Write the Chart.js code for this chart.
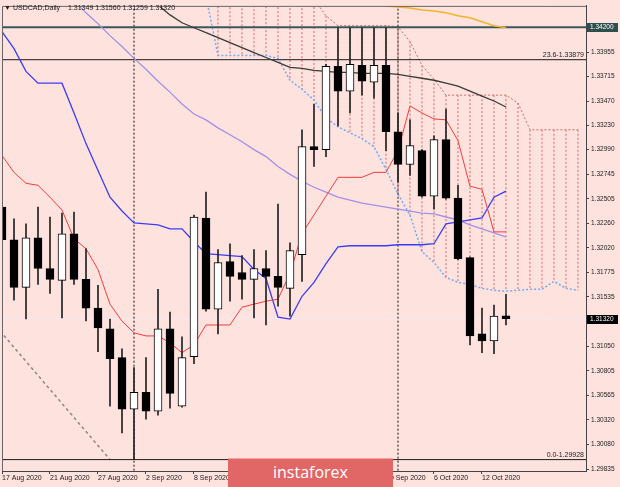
<!DOCTYPE html>
<html>
<head>
<meta charset="utf-8">
<script src="https://cdn.jsdelivr.net/npm/chart.js@4.4.1/dist/chart.umd.min.js"></script>
<style>
  html, body { margin: 0; padding: 0; background: #fde2de; }
  #wrap { position: relative; width: 620px; height: 487px; }
  #logo {
    position: absolute; left: 228px; top: 458px; width: 165px; height: 29px;
    background: #e16666; color: #fff; border-top: 1px solid #f2a4a4; box-sizing: border-box;
    font: 16px "Open Sans", sans-serif; text-align: center; line-height: 27px;
  }
</style>
</head>
<body>
<div id="wrap">
  <canvas id="chart" width="620" height="487"></canvas>
  <div id="logo">instaforex</div>
</div>
<script>
// USDCAD daily, 17 Aug - 14 Oct 2020
const dates = ["17 Aug 2020","18 Aug 2020","19 Aug 2020","20 Aug 2020","21 Aug 2020","24 Aug 2020","25 Aug 2020","26 Aug 2020","27 Aug 2020","28 Aug 2020","31 Aug 2020",
  "1 Sep 2020","2 Sep 2020","3 Sep 2020","4 Sep 2020","7 Sep 2020","8 Sep 2020","9 Sep 2020","10 Sep 2020","11 Sep 2020","14 Sep 2020","15 Sep 2020","16 Sep 2020","17 Sep 2020","18 Sep 2020","21 Sep 2020","22 Sep 2020","23 Sep 2020","24 Sep 2020","25 Sep 2020","28 Sep 2020","29 Sep 2020","30 Sep 2020",
  "1 Oct 2020","2 Oct 2020","5 Oct 2020","6 Oct 2020","7 Oct 2020","8 Oct 2020","9 Oct 2020","12 Oct 2020","13 Oct 2020","14 Oct 2020"];
const xTickBars = [0, 4, 8, 12, 16, 20, 24, 28, 32, 36, 40];

const open  = [1.32423,1.32100,1.31630,1.32120,1.31816,1.31699,1.32159,1.31708,1.31425,1.31219,1.30935,1.30426,1.30592,1.30406,1.31219,1.30455,1.30945,1.32315,1.31415,1.31885,1.31777,1.31708,1.31816,1.31738,1.31620,1.31953,1.33020,1.32991,1.33813,1.33568,1.33823,1.33657,1.33823,1.33167,1.32844,1.32981,1.32531,1.33089,1.32511,1.31924,1.31170,1.31101,1.31349];
const high  = [1.32599,1.32306,1.32257,1.32423,1.32325,1.32364,1.32374,1.32012,1.31650,1.31317,1.31023,1.30837,1.30935,1.31611,1.31385,1.31141,1.32345,1.32570,1.32002,1.32061,1.31943,1.32002,1.31992,1.32452,1.32071,1.33187,1.33441,1.33833,1.34195,1.34195,1.34195,1.34195,1.34195,1.33353,1.33285,1.32991,1.33128,1.33392,1.32638,1.31930,1.31425,1.31454,1.31560];
const low   = [1.31904,1.31503,1.31317,1.31659,1.31571,1.31327,1.31659,1.31297,1.30994,1.30455,1.30191,1.29928,1.30328,1.30367,1.30436,1.30445,1.30876,1.31395,1.31170,1.31493,1.31513,1.31327,1.31258,1.31444,1.31346,1.31689,1.32824,1.32922,1.33226,1.33353,1.33529,1.33500,1.32981,1.32668,1.32736,1.32521,1.32403,1.32501,1.31904,1.31062,1.30984,1.30974,1.31259];
const close = [1.32100,1.31630,1.32120,1.31816,1.31708,1.32159,1.31708,1.31425,1.31229,1.30925,1.30426,1.30592,1.30406,1.31219,1.30583,1.30935,1.32325,1.31415,1.31875,1.31738,1.31708,1.31816,1.31738,1.31630,1.31992,1.33020,1.32991,1.33813,1.33568,1.33833,1.33666,1.33823,1.33167,1.32844,1.33030,1.32531,1.33089,1.32511,1.31914,1.31150,1.31101,1.31346,1.31320];

// ichimoku lines
const tenkan = [1.32932,1.32766,1.32658,1.32638,1.32521,1.32394,1.32110,1.32012,1.31806,1.31464,1.31297,1.31180,1.31150,1.31150,1.31082,1.30984,1.31062,1.31258,1.31258,1.31258,1.31434,1.31464,1.31493,1.31513,1.31767,1.32159,1.32345,1.32531,1.32717,1.32717,1.32717,1.32766,1.32766,1.32981,1.33422,1.33353,1.33294,1.33285,1.33079,1.32629,1.32599,1.32178,1.32178];
const kijun  = [1.34156,1.33989,1.33764,1.33647,1.33647,1.33647,1.33353,1.33050,1.32785,1.32521,1.32384,1.32266,1.32257,1.32247,1.32208,1.32208,1.32080,1.31963,1.31953,1.31943,1.31934,1.31806,1.31718,1.31336,1.31317,1.31542,1.31679,1.31865,1.32031,1.32041,1.32041,1.32041,1.32041,1.32051,1.32051,1.32051,1.32061,1.32257,1.32276,1.32296,1.32315,1.32521,1.32580];
// cloud, bars 0..48 (26 bars ahead of price)
const spanA = [null,null,null,null,null,null,null,null,null,null,null,null,null,null,null,null,null,
  1.35017,1.34920,1.34871,1.34822,1.34773,1.34724,1.34675,1.34626,1.34547,1.34479,1.34313,1.34215,1.34215,1.34215,1.34215,1.34215,1.34205,1.34058,1.33823,1.33686,1.33529,1.33529,1.33529,1.33529,1.33529,1.33529,1.33451,1.33187,1.33187,1.33187,1.33187,1.33187];
const spanB = [null,null,null,null,null,null,null,null,null,null,null,null,null,null,null,null,null,
  1.34508,1.33921,1.33921,1.33921,1.33921,1.33921,1.33892,1.33676,1.33588,1.33480,1.33304,1.33216,1.33157,1.33099,1.33020,1.32795,1.32550,1.32345,1.31983,1.31875,1.31728,1.31679,1.31659,1.31620,1.31601,1.31591,1.31601,1.31611,1.31611,1.31689,1.31620,1.31601];

// moving averages
const maPurple = [1.35135,1.35017,1.34910,1.34792,1.34685,1.34567,1.34459,1.34342,1.34234,1.34117,1.34009,1.33892,1.33784,1.33666,1.33559,1.33441,1.33343,1.33285,1.33206,1.33138,1.33069,1.32991,1.32922,1.32824,1.32746,1.32678,1.32619,1.32570,1.32521,1.32492,1.32462,1.32443,1.32423,1.32403,1.32384,1.32364,1.32355,1.32325,1.32296,1.32247,1.32208,1.32169,1.32129];
const maBlack = [null,null,null,null,null,null,null,null,null,null,null,1.34606,1.34508,1.34420,1.34322,1.34244,1.34195,1.34146,1.34097,1.34048,1.33999,1.33950,1.33901,1.33852,1.33803,1.33794,1.33774,1.33764,1.33754,1.33754,1.33745,1.33745,1.33745,1.33735,1.33715,1.33696,1.33676,1.33647,1.33617,1.33568,1.33520,1.33471,1.33412];
const maOrange = [null,null,null,null,null,null,null,null,null,null,null,null,null,null,null,null,null,null,null,null,null,null,null,null,null,null,null,null,null,null,1.34450,1.34430,1.34410,1.34401,1.34391,1.34371,1.34361,1.34342,1.34313,1.34293,1.34254,1.34215,1.34195];

// drawn objects
const trendX = [-0.17, 9];
const trendY = [1.31199, 1.29928];
const monthSeparators = [11, 33];
const resistance = 1.34200;
const fibNames = ["23.6", "0.0"];
const fibValues = [1.33879, 1.29928];
const lastPrice = 1.31320;
const yTicks = [1.29835,1.30080,1.30320,1.30565,1.30805,1.31050,1.31535,1.31775,1.32020,1.32260,1.32505,1.32745,1.32990,1.33230,1.33470,1.33715,1.33955];

const X_MIN = 0, X_MAX = 48.667, Y_MIN = 1.298154, Y_MAX = 1.344107;

const series = (arr) => arr.map((v, i) => ({ x: i, y: v }));
const hline = (v) => [{ x: X_MIN - 1, y: v }, { x: X_MAX + 1, y: v }];

const hatch = [];
spanA.forEach((a, i) => {
  if (a == null) return;
  hatch.push({ x: i, y: a }, { x: i, y: spanB[i] }, { x: i, y: null });
});
const seps = [];
monthSeparators.forEach((i) => seps.push({ x: i, y: Y_MAX + 0.01 }, { x: i, y: Y_MIN - 0.01 }, { x: i, y: null }));

const lineDs = (data, color, width, order, dash) => ({
  type: "line", data, borderColor: color, borderWidth: width, borderDash: dash || [],
  pointRadius: 0, tension: 0, spanGaps: false, order, fill: false,
});

const overlay = {
  id: "overlay",
  afterDraw(chart) {
    const { ctx, chartArea: a, scales: { y } } = chart;
    ctx.save();
    ctx.strokeStyle = "#666";
    ctx.lineWidth = 1;
    ctx.beginPath();
    ctx.moveTo(a.left + 0.5, a.bottom);
    ctx.lineTo(a.left + 0.5, a.top + 0.5);
    ctx.lineTo(a.right, a.top + 0.5);
    ctx.stroke();

    ctx.font = '7px "Liberation Sans"';
    ctx.textBaseline = "middle";
    ctx.fillStyle = "#222";
    ctx.fillText("\u25BC", 4, 8);
    ctx.fillText("USDCAD,Daily", 13, 8);
    ctx.fillText([open[42], high[42], low[42], close[42]].map((v) => v.toFixed(5)).join(" "), 68, 8);

    ctx.textAlign = "right";
    ctx.textBaseline = "bottom";
    fibValues.forEach((v, k) => {
      ctx.fillText(fibNames[k] + "-" + v.toFixed(5), a.right - 2, y.getPixelForValue(v) - 1);
    });

    ctx.textAlign = "left";
    ctx.textBaseline = "middle";
    ctx.font = '6.5px "Liberation Sans"';
    [[resistance, "#2f4f4f"], [lastPrice, "#000"]].forEach(([v, bg]) => {
      const py = Math.round(y.getPixelForValue(v));
      ctx.fillStyle = bg;
      ctx.fillRect(a.right + 1, py - 4, 31, 9);
      ctx.fillStyle = "#fff";
      ctx.fillText(v.toFixed(5), a.right + 4, py + 0.5);
    });
    ctx.restore();
  },
};

new Chart("chart", {
  type: "bar",
  data: {
    datasets: [
      {
        type: "bar", order: 0,
        data: open.map((o, i) => ({ x: i, y: [o, close[i]] })),
        backgroundColor: open.map((o, i) => (close[i] >= o ? "#ffffff" : "#000000")),
        borderColor: "#000", borderWidth: 1, borderSkipped: false, barThickness: 8, grouped: false,
      },
      {
        type: "bar", order: 1,
        data: low.map((l, i) => ({ x: i, y: [l, high[i]] })),
        backgroundColor: "#222", borderWidth: 0, barThickness: 1, grouped: false,
      },
      lineDs(series(tenkan), "#f23c3c", 1, 2),
      lineDs(series(kijun), "#3c3cf5", 1.3, 2),
      lineDs(series(maPurple), "#a390e6", 1.3, 3),
      lineDs(series(maBlack), "#3a3a3a", 1.3, 3),
      lineDs(series(maOrange), "#f2b42c", 1.5, 3),
      lineDs(hline(resistance), "#3a5858", 2, 4),
      lineDs(hline(fibValues[0]), "#1a1a1a", 1, 4),
      lineDs(hline(fibValues[1]), "#1a1a1a", 1, 4),
      lineDs(hline(lastPrice), "#f4e9f2", 1, 9),
      lineDs(trendX.map((x, k) => ({ x, y: trendY[k] })), "#8f8585", 1.5, 5, [3, 3]),
      lineDs(seps, "#111", 1, 5, [2, 2]),
      lineDs(series(spanB), "#79aaf0", 1.5, 6, [2, 2]),
      lineDs(series(spanA), "#cc6a6a", 1, 7, [2, 2]),
      lineDs(hatch, "#cc6a6a", 1, 8, [2, 2]),
    ],
  },
  options: {
    responsive: false,
    animation: false,
    devicePixelRatio: 1,
    layout: { padding: { left: 2, top: 2, right: 0, bottom: 0 } },
    plugins: { legend: { display: false }, tooltip: { enabled: false } },
    scales: {
      x: {
        type: "linear", min: X_MIN, max: X_MAX, offset: false,
        afterFit: (s) => { s.height = 16; },
        afterBuildTicks: (s) => { s.ticks = xTickBars.map((v) => ({ value: v })); },
        grid: { display: true, drawOnChartArea: false, tickLength: 3, color: "#444", offset: false },
        border: { display: true, color: "#444" },
        ticks: {
          align: "start", padding: 0, maxRotation: 0, autoSkip: false, color: "#222",
          font: { family: "Liberation Sans", size: 7 },
          callback: (v) => dates[v],
        },
      },
      y: {
        type: "linear", position: "right", min: Y_MIN, max: Y_MAX,
        afterFit: (s) => { s.width = 34; },
        afterBuildTicks: (s) => { s.ticks = yTicks.map((v) => ({ value: v })); },
        grid: { display: true, drawOnChartArea: false, tickLength: 3, color: "#444" },
        border: { display: true, color: "#444" },
        ticks: {
          padding: 2, color: "#222", autoSkip: false,
          font: { family: "Liberation Sans", size: 6.5 },
          callback: (v) => v.toFixed(5),
        },
      },
    },
  },
  plugins: [overlay],
});
</script>
</body>
</html>
